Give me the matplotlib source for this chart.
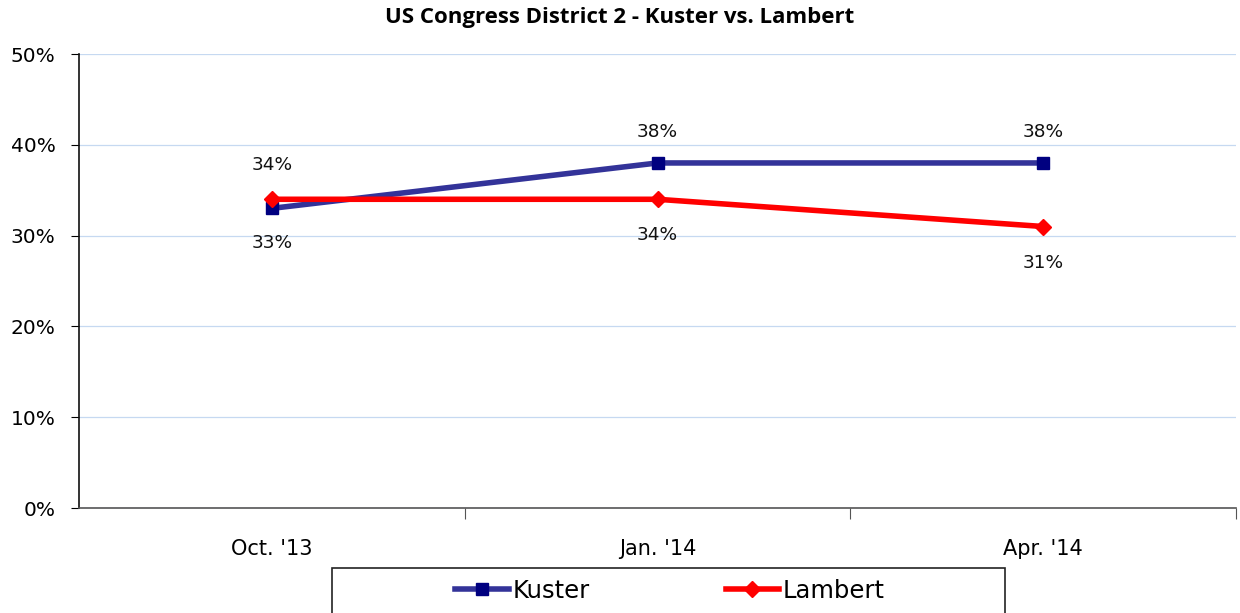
import matplotlib
matplotlib.use("Agg")
import matplotlib.pyplot as plt
from matplotlib.patches import Rectangle
from matplotlib.lines import Line2D
from matplotlib import font_manager

categories = ["Oct. '13", "Jan. '14", "Apr. '14"]
kuster = [33, 38, 38]
lambert = [34, 34, 31]
yticks = [0, 10, 20, 30, 40, 50]
title = "US Congress District 2 - Kuster vs. Lambert"

names = {f.name for f in font_manager.fontManager.ttflist}
narrow = "Liberation Sans Narrow" if "Liberation Sans Narrow" in names else "DejaVu Sans"

W, H = 1240, 613
fig = plt.figure(figsize=(W / 100, H / 100), dpi=100)
ax = fig.add_axes([79 / W, 1 - 508 / H, (1236 - 79) / W, (508 - 54) / H])

x = list(range(len(categories)))
kc_line, kc_mark = "#333399", "#000080"
lc = "#FF0000"
ax.plot(x, kuster, color=kc_line, lw=4, marker="s", ms=8, mfc=kc_mark, mec=kc_mark, zorder=3)
ax.plot(x, lambert, color=lc, lw=4, marker="D", ms=8, mfc=lc, mec=lc, zorder=4)

# data labels
kpos = ["below", "above", "above"]
lpos = ["above", "below", "below"]
for xi, v, p in zip(x, kuster, kpos):
    ax.annotate(f"{v}%", (xi, v), xytext=(0, 22 if p == "above" else -25), textcoords="offset points",
                ha="center", va="center", fontsize=13.3, family="DejaVu Sans", color="#111111")
for xi, v, p in zip(x, lambert, lpos):
    ax.annotate(f"{v}%", (xi, v), xytext=(0, 25 if p == "above" else -26), textcoords="offset points",
                ha="center", va="center", fontsize=13.3, family="DejaVu Sans", color="#111111")

ax.set_xlim(-0.5, 2.5)
ax.set_ylim(0, 50)
ax.set_yticks(yticks)
ax.set_yticklabels([f"{t}%" for t in yticks], fontsize=14.5, family="DejaVu Sans")
ax.grid(axis="y", color="#C6D9F1", lw=0.9)
ax.set_axisbelow(True)
ax.set_xticks([0.5, 1.5, 2.5])
ax.set_xticklabels([])
ax.set_xticks(x, minor=True)
ax.set_xticklabels(categories, minor=True, fontsize=15, family="DejaVu Sans")
ax.tick_params(axis="x", which="minor", length=0, pad=22)
ax.tick_params(axis="x", which="major", length=8, color="#555555", direction="out")
ax.tick_params(axis="y", length=6, direction="out", pad=11)
for s in ["top", "right"]:
    ax.spines[s].set_visible(False)
ax.spines["left"].set_color("#111111")
ax.spines["bottom"].set_color("#555555")
ax.spines["left"].set_linewidth(1.2)
ax.spines["bottom"].set_linewidth(1.2)

fig.text(0.5, 1 - 18 / H, title, ha="center", va="center", fontsize=16,
         fontweight="bold", family="Open Sans")

# legend box
fig.patches.append(Rectangle((332 / W, -0.05), (1005 - 332) / W, (613 - 568) / H + 0.05,
                             transform=fig.transFigure, fill=False, ec="#222222", lw=1.2))
handles = [
    Line2D([], [], color=kc_line, lw=4, marker="s", ms=8, mfc=kc_mark, mec=kc_mark),
    Line2D([], [], color=lc, lw=4, marker="D", ms=8, mfc=lc, mec=lc),
]
fig.legend(handles, ["Kuster", "Lambert"], loc="center", bbox_to_anchor=(670 / W, 1 - 591 / H),
           ncol=2, frameon=False, prop={"family": narrow, "size": 17.5},
           handlelength=2.2, handletextpad=0.15, columnspacing=5.6)

fig.savefig("out.png", dpi=100)
